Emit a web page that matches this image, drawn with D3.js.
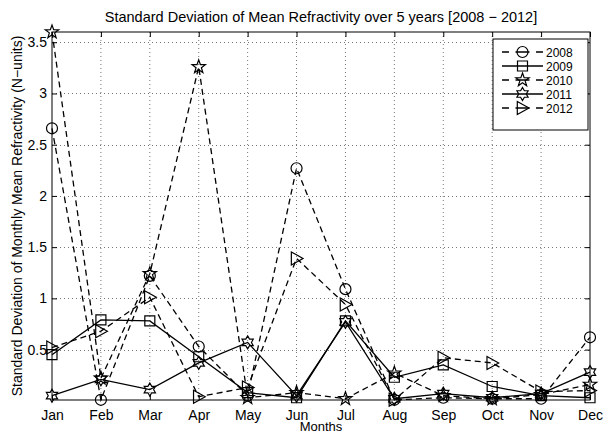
<!DOCTYPE html>
<html>
<head>
<meta charset="utf-8">
<style>
  body { margin: 0; background: #fff; }
  text { font-family: "Liberation Sans", Arial, sans-serif; fill: #000; }
</style>
</head>
<body>
<script src="https://cdn.jsdelivr.net/npm/d3@7"></script>
<script>
var months = ["Jan","Feb","Mar","Apr","May","Jun","Jul","Aug","Sep","Oct","Nov","Dec"];
var years = ["2008","2009","2010","2011","2012"];
var yTicks = [0.5, 1, 1.5, 2, 2.5, 3, 3.5];

var s2008 = [2.66, 0.01, 1.22, 0.53, 0.05, 2.27, 1.09, 0.01, 0.03, 0.02, 0.02, 0.62];
var s2009 = [0.45, 0.79, 0.78, 0.43, 0.08, 0.03, 0.78, 0.23, 0.35, 0.14, 0.05, 0.03];
var s2010 = [3.60, 0.22, 1.24, 3.26, 0.03, 0.08, 0.02, 0.27, 0.05, 0.02, 0.06, 0.16];
var s2011 = [0.05, 0.21, 0.11, 0.37, 0.57, 0.05, 0.77, 0.02, 0.07, 0.03, 0.07, 0.28];
var s2012 = [0.52, 0.68, 1.01, 0.04, 0.13, 1.39, 0.94, 0.01, 0.42, 0.37, 0.09, 0.10];

var width = 604, height = 434;
var margin = {top: 32, right: 14, bottom: 34, left: 52};
var plotW = width - margin.left - margin.right;
var plotH = height - margin.top - margin.bottom;

// custom marker shapes (MATLAB style)
function starType(points, ratio) {
  return {
    draw: function(ctx, size) {
      var r = Math.sqrt(size);
      for (var i = 0; i < points * 2; i++) {
        var rr = i % 2 === 0 ? r : r * ratio;
        var a = -Math.PI / 2 + i * Math.PI / points;
        if (i === 0) ctx.moveTo(rr * Math.cos(a), rr * Math.sin(a));
        else ctx.lineTo(rr * Math.cos(a), rr * Math.sin(a));
      }
      ctx.closePath();
    }
  };
}
var circleType = { draw: function(ctx, size) { var r = Math.sqrt(size); ctx.moveTo(r, 0); ctx.arc(0, 0, r, 0, 2 * Math.PI); } };
var squareType = { draw: function(ctx, size) { var r = Math.sqrt(size); ctx.rect(-r, -r, 2 * r, 2 * r); } };
var triRightType = { draw: function(ctx, size) {
  var r = Math.sqrt(size);
  ctx.moveTo(r, 0); ctx.lineTo(-r * 0.8, -r); ctx.lineTo(-r * 0.8, r); ctx.closePath();
} };

var series = [
  {name: years[0], values: s2008, dash: "6,4", type: circleType, size: 5.5 * 5.5},
  {name: years[1], values: s2009, dash: null, type: squareType, size: 5 * 5},
  {name: years[2], values: s2010, dash: "6,4", type: starType(5, 0.4), size: 7 * 7},
  {name: years[3], values: s2011, dash: null, type: starType(6, 0.58), size: 6.5 * 6.5},
  {name: years[4], values: s2012, dash: "6,4", type: triRightType, size: 6.5 * 6.5}
];

var svg = d3.select("body").append("svg")
    .attr("width", width)
    .attr("height", height);

var x = d3.scalePoint().domain(months).range([0, plotW]);
var y = d3.scaleLinear().domain([0.008, 3.6]).range([plotH, 0]);

var g = svg.append("g").attr("transform", "translate(" + margin.left + "," + margin.top + ")");

// grid
g.append("g").selectAll("line").data(months.slice(1, 11)).enter().append("line")
  .attr("x1", function(d) { return x(d); }).attr("x2", function(d) { return x(d); })
  .attr("y1", 0).attr("y2", plotH)
  .attr("stroke", "#777").attr("stroke-width", 1).attr("stroke-dasharray", "1,3");
g.append("g").selectAll("line").data(yTicks).enter().append("line")
  .attr("x1", 0).attr("x2", plotW)
  .attr("y1", function(d) { return Math.round(y(d)) + 0.5; }).attr("y2", function(d) { return Math.round(y(d)) + 0.5; })
  .attr("stroke", "#777").attr("stroke-width", 1).attr("stroke-dasharray", "1,3");

// axes
var xAxis = g.append("g").attr("transform", "translate(0," + plotH + ")")
  .call(d3.axisBottom(x).tickSizeInner(-5).tickSizeOuter(0).tickPadding(10));
var xTop = g.append("g").call(d3.axisTop(x).tickSizeInner(-5).tickSizeOuter(0).tickFormat(""));
var yAxis = g.append("g").call(d3.axisLeft(y).tickValues(yTicks).tickFormat(d3.format("")).tickSizeInner(-5).tickSizeOuter(0).tickPadding(5));
var yRight = g.append("g").attr("transform", "translate(" + plotW + ",0)")
  .call(d3.axisRight(y).tickValues(yTicks).tickFormat("").tickSizeInner(-5).tickSizeOuter(0));
[xAxis, xTop, yAxis, yRight].forEach(function(a) {
  a.select(".domain").remove();
  a.selectAll("text").style("font-size", "14px").style("font-family", "Liberation Sans, Arial, sans-serif").attr("fill", "#000");
});
g.append("rect").attr("x", 0).attr("y", 0).attr("width", plotW).attr("height", plotH)
  .attr("fill", "none").attr("stroke", "#000").attr("stroke-width", 1);

// lines and markers
var line = d3.line()
  .x(function(d, i) { return x(months[i]); })
  .y(function(d) { return y(d); });

series.forEach(function(s) {
  g.append("path").datum(s.values)
    .attr("d", line)
    .attr("fill", "none").attr("stroke", "#000").attr("stroke-width", 1.3)
    .attr("stroke-dasharray", s.dash);
  g.selectAll(".m" + s.name).data(s.values).enter().append("path")
    .attr("class", "m" + s.name)
    .attr("transform", function(d, i) { return "translate(" + x(months[i]) + "," + y(d) + ")"; })
    .attr("d", d3.symbol().type(s.type).size(s.size))
    .attr("fill", "none").attr("stroke", "#000").attr("stroke-width", 1.2);
});

// legend
var lg = svg.append("g").attr("transform", "translate(493,39)");
lg.append("rect").attr("width", 95).attr("height", 91)
  .attr("fill", "#fff").attr("stroke", "#000").attr("stroke-width", 1);
series.forEach(function(s, i) {
  var ly = 13 + i * 14;
  lg.append("line").attr("x1", 9).attr("x2", 50).attr("y1", ly).attr("y2", ly)
    .attr("stroke", "#000").attr("stroke-width", 1.3)
    .attr("stroke-dasharray", s.dash ? "7,6.5,14,6.5,7" : null);
  lg.append("path").attr("transform", "translate(29.5," + ly + ")")
    .attr("d", d3.symbol().type(s.type).size(s.size))
    .attr("fill", "none").attr("stroke", "#000").attr("stroke-width", 1.2);
  lg.append("text").attr("x", 53).attr("y", ly + 4.5)
    .style("font-size", "12px").text(s.name);
});

// titles
svg.append("text").attr("x", margin.left + plotW / 2).attr("y", 22)
  .attr("text-anchor", "middle").style("font-size", "14.5px")
  .text("Standard Deviation of Mean Refractivity over 5 years [2008 \u2212 2012]");
svg.append("text").attr("x", margin.left + plotW / 2).attr("y", 431)
  .attr("text-anchor", "middle").style("font-size", "13px").text("Months");
svg.append("text")
  .attr("transform", "translate(22," + (margin.top + plotH / 2) + ") rotate(-90)")
  .attr("text-anchor", "middle").style("font-size", "14px")
  .text("Standard Deviation of Monthly Mean Refractivity (N\u2212units)");
</script>
</body>
</html>
